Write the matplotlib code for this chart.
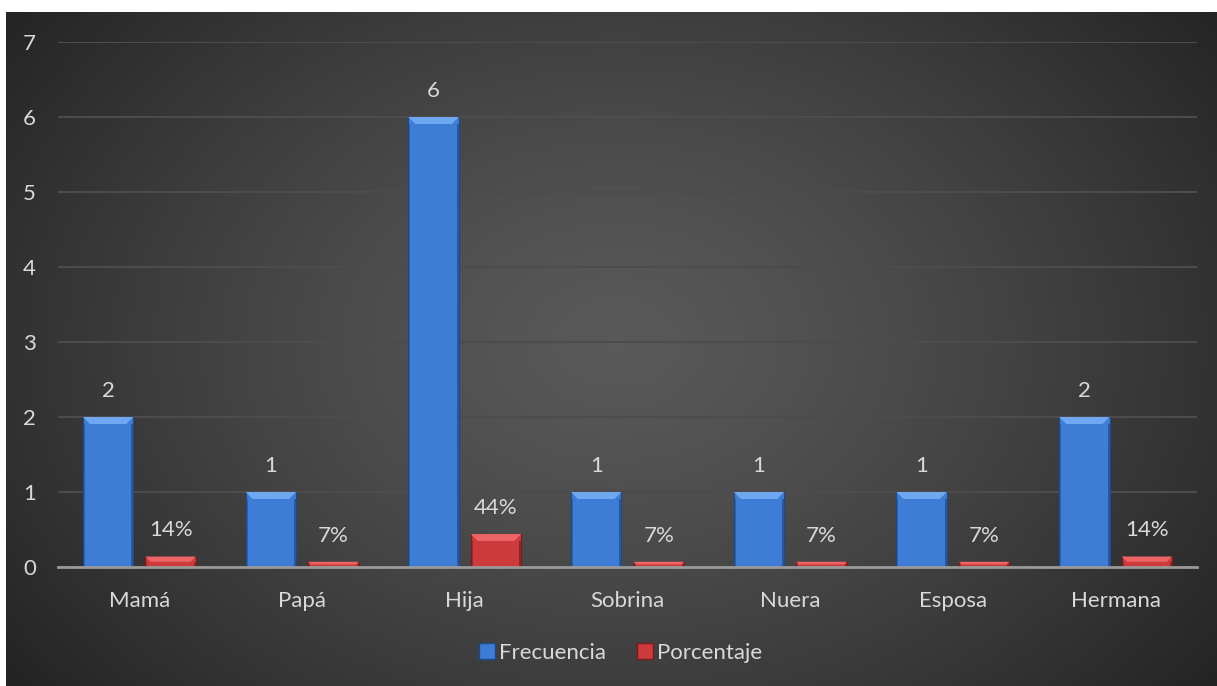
import numpy as np
import matplotlib.pyplot as plt
from matplotlib.patches import Polygon, Rectangle

categorias = ['Mamá', 'Papá', 'Hija', 'Sobrina', 'Nuera', 'Esposa', 'Hermana']
frecuencia = [2, 1, 6, 1, 1, 1, 2]
porcentaje = [0.14, 0.07, 0.44, 0.07, 0.07, 0.07, 0.14]
etiquetas_pct = ['14%', '7%', '44%', '7%', '7%', '7%', '14%']

W, H = 1217, 686
plt.rcParams['font.family'] = ['Lato', 'DejaVu Sans']
fig = plt.figure(figsize=(W / 100, H / 100), dpi=100)
fig.patch.set_facecolor('white')

# fondo radial oscuro
bg = fig.add_axes([6 / W, 0, 1 - 6 / W, 674 / H])
yy, xx = np.mgrid[0:674, 0:1211]
r = np.sqrt(((xx - 610) / 760.0) ** 2 + ((yy - 330) / 560.0) ** 2)
r = np.clip(r, 0, 1)
c = 0.35 - (0.35 - 0.14) * r ** 1.3
bg.imshow(np.dstack([c, c, c]), aspect='auto', extent=[0, 1, 0, 1], interpolation='bilinear')
bg.set_axis_off()

ax = fig.add_axes([58 / W, 1 - 567 / H, (1197 - 58) / W, (567 - 42) / H])
ax.patch.set_alpha(0)
x = np.arange(len(categorias))
ancho = 0.31
sep = 0.037

px_y = 7 / 525.0
px_x = 1 / 162.7


def bisel(rects, claro, oscuro):
    for rc in rects:
        x0, w, h = rc.get_x(), rc.get_width(), rc.get_height()
        d = min(7 * px_y, h / 2)
        dx = d / px_y * px_x
        top = Polygon([(x0, h), (x0 + w, h), (x0 + w - dx, h - d), (x0 + dx, h - d)],
                      closed=True, facecolor=claro, edgecolor='none', zorder=4)
        ax.add_patch(top)
        ax.add_patch(Rectangle((x0, 0), 2 * px_x, h - d, facecolor=oscuro, alpha=0.5,
                               edgecolor='none', zorder=4))
        ax.add_patch(Rectangle((x0 + w - 2 * px_x, 0), 2 * px_x, h - d, facecolor=oscuro,
                               alpha=0.7, edgecolor='none', zorder=4))


b1 = ax.bar(x - sep - ancho / 2, frecuencia, ancho, color='#3d7dd6', edgecolor='#1e4a8a',
            linewidth=0.8, zorder=3, label='Frecuencia')
b2 = ax.bar(x + sep + ancho / 2, porcentaje, ancho, color='#cc3a3c', edgecolor='#7a1c1c',
            linewidth=0.8, zorder=3, label='Porcentaje')
bisel(b1, '#6ea8f0', '#1e4a8a')
bisel(b2, '#ec6465', '#7a1c1c')

fs = 16
for rc, v in zip(b1, frecuencia):
    ax.annotate(str(v), (rc.get_x() + rc.get_width() / 2, v), xytext=(0, 26),
                textcoords='offset pixels', ha='center', va='center',
                color='#d9d9d9', fontsize=fs)
for rc, v, t in zip(b2, porcentaje, etiquetas_pct):
    ax.annotate(t, (rc.get_x() + rc.get_width() / 2, v), xytext=(0, 26),
                textcoords='offset pixels', ha='center', va='center',
                color='#d9d9d9', fontsize=fs)

ax.set_xlim(-0.5, len(categorias) - 0.5)
ax.set_ylim(0, 7)
ax.set_yticks(range(0, 8))
ax.set_xticks(x)
ax.set_xticklabels(categorias)
ax.tick_params(axis='both', length=0, colors='#d9d9d9', labelsize=fs)
ax.tick_params(axis='y', pad=16)
ax.tick_params(axis='x', pad=17)
ax.grid(axis='y', color='#4c4c4c', linewidth=1.5, zorder=0)
for s in ['top', 'right', 'left']:
    ax.spines[s].set_visible(False)
ax.spines['bottom'].set_color('#9a9a9a')
ax.spines['bottom'].set_linewidth(2)
ax.spines['bottom'].set_zorder(5)

handles = [Rectangle((0, 0), 1, 1, facecolor='#3d7dd6', edgecolor='#1e4a8a'),
           Rectangle((0, 0), 1, 1, facecolor='#cc3a3c', edgecolor='#7a1c1c')]
leg = fig.legend(handles, ['Frecuencia', 'Porcentaje'], loc='center',
                 bbox_to_anchor=(621 / W, 1 - 653 / H), ncol=2, frameon=False,
                 fontsize=fs, handlelength=0.7, handleheight=0.7, handletextpad=0.2,
                 columnspacing=1.4)
for t in leg.get_texts():
    t.set_color('#d9d9d9')

fig.savefig('out.png', dpi=100)
